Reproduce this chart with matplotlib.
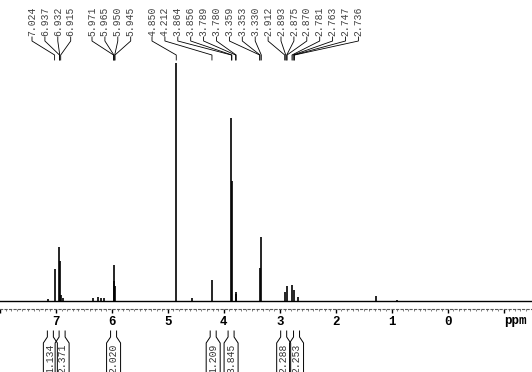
import matplotlib
matplotlib.use("Agg")
import matplotlib.pyplot as plt
from matplotlib.transforms import Affine2D

# spectrum lines: chemical shift (ppm) and height (arbitrary units)
peak_ppm = [7.14, 7.024, 6.937, 6.932, 6.915, 6.87, 6.34, 6.25, 6.20, 6.15,
            5.971, 5.958, 5.945, 4.850, 4.57, 4.212, 3.864, 3.856, 3.789, 3.780,
            3.359, 3.330, 2.912, 2.875, 2.781, 2.747, 2.67, 1.28, 0.90]
peak_height = [2, 32, 54, 40, 6, 3, 3, 4, 3, 3,
               20, 36, 15, 238, 3, 21, 183, 120, 9, 7,
               33, 64, 9, 15, 16, 11, 4, 5, 1]

# picked peak labels (top) and the shifts they point to
pick_labels = ["7.024", "6.937", "6.932", "6.915",
               "5.971", "5.965", "5.950", "5.945",
               "4.850", "4.212", "3.864", "3.856", "3.789", "3.780",
               "3.359", "3.353", "3.330", "2.912", "2.893", "2.875",
               "2.870", "2.781", "2.763", "2.747", "2.736"]
pick_groups = [4, 4, 17]

# integrals (bottom)
integ_ppm = [7.10, 6.89, 5.97, 4.19, 3.87, 2.93, 2.70]
integ_vals = ["1.134", "2.371", "2.020", "1.209", "3.845", "2.288", "2.253"]

W, H = 532, 372
fig = plt.figure(figsize=(W / 100, H / 100), dpi=100)
ax = fig.add_axes([0, (H - 309) / H, 1, 309 / H])
ax.set_xlim(7.941, -1.508)
ax.set_ylim(-8, 301)
ax.autoscale(False)

ax.axhline(0, color="black", lw=1.0)
ax.vlines(peak_ppm, 0, peak_height, color="black", lw=1.2)

for s in ["left", "right", "top"]:
    ax.spines[s].set_visible(False)
ax.spines["bottom"].set_linestyle((0, (1.95, 2.1)))
ax.spines["bottom"].set_color("0.35")
ax.set_yticks([])
ax.set_xticks(range(-1, 9))
ax.set_xticklabels(["", "0", "1", "2", "3", "4", "5", "6", "7", ""],
                   family="Liberation Mono", fontweight="bold", fontsize=9)
ax.set_xticks([i / 10 for i in range(-15, 80)], minor=True)
ax.tick_params(axis="x", which="major", length=3, width=1, pad=2)
ax.tick_params(axis="x", which="minor", length=1.2, width=0.6, color="0.4")

pix = Affine2D().scale(1, -1).translate(0, H)

def to_px(ppm):
    return ax.transData.transform((ppm, 0))[0]

ax.text(515, 321, "ppm", transform=pix, ha="center", va="center",
        family="Liberation Mono", fontweight="bold", fontsize=9)

# peak pick labels with connector lines
lab_x = []
starts = [32, 92, 152]
for st, n in zip(starts, pick_groups):
    lab_x += [st + 12.9 * i for i in range(n)]
for xl, lab in zip(lab_x, pick_labels):
    xp = to_px(float(lab))
    ax.text(xl, 36, lab, transform=pix, rotation=90, ha="center", va="bottom",
            family="Liberation Mono", fontsize=7, color="0.25")
    ax.plot([xl, xl, xp, xp], [37, 41, 55, 60], transform=pix,
            color="black", lw=0.6, clip_on=False)

# integral boxes
for p, v in zip(integ_ppm, integ_vals):
    xc = to_px(p)
    for sgn in (-1, 1):
        ax.plot([xc + 3 * sgn, xc + 3 * sgn, xc + 7 * sgn, xc + 7 * sgn],
                [331, 337, 343, 380], transform=pix, color="black",
                lw=0.7, clip_on=False)
    ax.text(xc, 344, v, transform=pix, rotation=90, ha="center", va="top",
            family="Liberation Mono", fontsize=7, color="0.2")

fig.savefig("out.png", dpi=100)
